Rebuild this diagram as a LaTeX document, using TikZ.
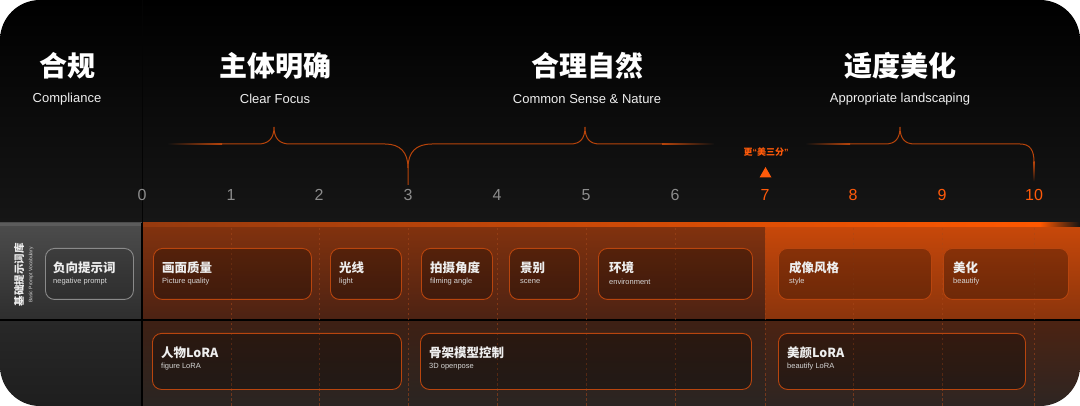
\documentclass[tikz,border=0pt]{standalone}
\usepackage{fontspec}
\setmainfont{Liberation Sans}
\newfontfamily\cjk{Noto Sans CJK SC}
\usetikzlibrary{calc}
\definecolor{hot}{HTML}{FF5A0A}
\definecolor{tickgray}{HTML}{8C8C8C}
\definecolor{bracecol}{HTML}{B8440A}
\definecolor{bracefade}{HTML}{101010}
\definecolor{oborder}{HTML}{B8450E}
\definecolor{gborder}{HTML}{8A8A8A}
\definecolor{txtw}{HTML}{EEEEEE}
\definecolor{txts}{HTML}{D6D6D6}
\definecolor{dashcol}{HTML}{A8481A}
\definecolor{hdrbot}{HTML}{161616}
\definecolor{gtop}{HTML}{4C4C4C}
\definecolor{gbot}{HTML}{2E2E2E}
\definecolor{gstrip}{HTML}{5C5C5C}
\definecolor{g2top}{HTML}{282828}
\definecolor{g2bot}{HTML}{1E1E1E}
\definecolor{o1top}{HTML}{82320E}
\definecolor{o1bot}{HTML}{4C2213}
\definecolor{o1rtop}{HTML}{C8480A}
\definecolor{o1rbot}{HTML}{8A340C}
\definecolor{o2top}{HTML}{3E2014}
\definecolor{o2bot}{HTML}{2A2522}
\definecolor{o2rtop}{HTML}{4C2312}
\definecolor{o2rbot}{HTML}{2E2522}
\definecolor{stripl}{HTML}{963A0E}
\definecolor{stripr}{HTML}{FF5800}
\definecolor{stripend}{HTML}{141414}
\definecolor{hdrline}{HTML}{040404}
\tikzset{
  title/.style={font=\cjk\bfseries\fontsize{28}{30}\selectfont, text=white},
  sub/.style={font=\fontsize{13}{15}\selectfont, text=txtw},
  tick/.style={font=\fontsize{16}{18}\selectfont, text=tickgray},
  tickhot/.style={tick, text=hot},
  obox/.style={draw=oborder, line width=0.9pt, fill=black, fill opacity=0.27, rounded corners=9pt, anchor=north west, inner sep=0pt, minimum height=#1},
  obox/.default=51pt,
  gbox/.style={draw=gborder, line width=0.9pt, fill=black, fill opacity=0.1, rounded corners=9pt, anchor=north west, inner sep=0pt, minimum height=51pt},
  btitle/.style={font=\cjk\bfseries\fontsize{12.5}{14}\selectfont, text=txtw, anchor=west, inner sep=0pt},
  bsub/.style={font=\fontsize{7.5}{9}\selectfont, text=txts, anchor=west, inner sep=0pt},
  brace/.style={draw=bracecol, line width=1pt},
  grid/.style={draw=dashcol, draw opacity=0.55, line width=0.6pt, dash pattern=on 2.5pt off 2.5pt},
}
\begin{document}
\begin{tikzpicture}[x=1pt,y=-1pt]
\useasboundingbox (0,0) rectangle (1080,406);
\fill[white] (0,0) rectangle (1080,406);
\begin{scope}
\clip[rounded corners=40pt] (0,0) rectangle (1080,406);
% header
\shade[top color=black, bottom color=hdrbot] (0,0) rectangle (1080,223);
% left column
\shade[top color=gtop, bottom color=gbot] (0,223) rectangle (142,320);
\fill[gstrip] (0,223) rectangle (142,226);
\shade[top color=g2top, bottom color=g2bot] (0,320) rectangle (142,406);
% orange rows
\shade[top color=o1top, bottom color=o1bot] (143,226) rectangle (765,320);
\shade[top color=o1rtop, bottom color=o1rbot] (765,226) rectangle (1080,320);
\shade[top color=o2top, bottom color=o2bot] (143,320) rectangle (765,406);
\shade[top color=o2rtop, bottom color=o2rbot] (765,320) rectangle (1080,406);
\shade[left color=stripl, right color=stripr] (143,223) rectangle (1040,227);
\shade[left color=stripr, right color=stripend] (1040,223) rectangle (1080,227);
% dividers
\draw[black, line width=2pt] (0,320) -- (1080,320);
\draw[black, line width=2pt] (142,223) -- (142,406);
\draw[hdrline, line width=1pt] (142,0) -- (142,223);
% grid
\foreach \x in {231,319,408,497,586,675,765,853,942,1034}
  \draw[grid] (\x,228) -- (\x,406);
\end{scope}

% titles
\node[title] (h0) at (67,66) {合规};
\node[sub] (s0) at (67,99) {Compliance};
\node[title] (h1) at (275,66) {主体明确};
\node[sub] (s1) at (275,99) {Clear Focus};
\node[title] (h2) at (587,66) {合理自然};
\node[sub] (s2) at (587,99) {Common Sense \& Nature};
\node[title] (h3) at (900,66) {适度美化};
\node[sub] (s3) at (900,99) {Appropriate landscaping};

% ticks
\foreach \i/\x in {0/142,1/231,2/319,3/408,4/497,5/586,6/675}
  \node[tick] (t\i) at (\x,195) {\i};
\foreach \i/\x in {7/765,8/853,9/942,10/1034}
  \node[tickhot] (t\i) at (\x,195) {\i};

% braces (faded ends as shaded strips)
\shade[left color=bracefade, right color=bracecol] (168,143.5) rectangle (222,144.5);
\draw[brace] (222,144) -- (258,144) .. controls (268,144) and (274,139) .. (274,127)
  .. controls (274,139) and (280,144) .. (290,144) -- (385,144)
  .. controls (400,144) and (408,152) .. (408,168) -- (408,185);
\draw[brace] (408,168) .. controls (408,152) and (416,144) .. (432,144) -- (570,144)
  .. controls (580,144) and (585,139) .. (585,127)
  .. controls (585,139) and (590,144) .. (600,144) -- (662,144);
\shade[left color=bracecol, right color=bracefade] (662,143.5) rectangle (714,144.5);
\shade[left color=bracefade, right color=bracecol] (806,143.5) rectangle (850,144.5);
\draw[brace] (850,144) -- (885,144) .. controls (895,144) and (900,139) .. (900,127)
  .. controls (900,139) and (905,144) .. (915,144) -- (1020,144)
  .. controls (1030,144) and (1034,150) .. (1034,162);
\shade[top color=bracecol, bottom color=bracefade] (1033.5,162) rectangle (1034.5,182);

% note
\node[font=\cjk\bfseries\fontsize{9}{10}\selectfont, text=hot] (note) at (766,152) {更{\rmfamily“}美三分{\rmfamily”}};
\fill[hot] (759.5,177.5) -- (771.5,177.5) -- (765.5,167) -- cycle;

% left label
\node[rotate=90, font=\cjk\bfseries\fontsize{10.5}{12}\selectfont, text=txtw] (vl) at (19,275) {基础提示词库};
\node[rotate=90, font=\fontsize{5}{6}\selectfont, text=txts] (vl2) at (31,275) {Basic Prompt Vocabulary};

% row 1 boxes
\node[gbox, minimum width=88pt] (neg) at (45,248) {};
\node[btitle] (negt) at ($(neg.north west)+(8,20)$) {负向提示词};
\node[bsub] (negs) at ($(neg.north west)+(8,34)$) {negative prompt};

\node[obox, minimum width=158pt] (pq) at (153,248) {};
\node[btitle] (pqt) at ($(pq.north west)+(9,20)$) {画面质量};
\node[bsub] (pqs) at ($(pq.north west)+(9,34)$) {Picture quality};

\node[obox, minimum width=71pt] (li) at (330,248) {};
\node[btitle] (lit) at ($(li.north west)+(9,20)$) {光线};
\node[bsub] (lis) at ($(li.north west)+(9,34)$) {light};

\node[obox, minimum width=71pt] (an) at (421,248) {};
\node[btitle] (ant) at ($(an.north west)+(9,20)$) {拍摄角度};
\node[bsub] (ans) at ($(an.north west)+(9,34)$) {filming angle};

\node[obox, minimum width=70pt] (sc) at (509,248) {};
\node[btitle] (sct) at ($(sc.north west)+(11,20)$) {景别};
\node[bsub] (scs) at ($(sc.north west)+(11,34)$) {scene};

\node[obox, minimum width=154pt] (en) at (598,248) {};
\node[btitle] (ent) at ($(en.north west)+(11,20)$) {环境};
\node[bsub] (ens) at ($(en.north west)+(11,34)$) {environment};

\node[obox, minimum width=153pt] (st) at (778,248) {};
\node[btitle] (stt) at ($(st.north west)+(11,20)$) {成像风格};
\node[bsub] (sts) at ($(st.north west)+(11,34)$) {style};

\node[obox, minimum width=125pt] (be) at (943,248) {};
\node[btitle] (bet) at ($(be.north west)+(10,20)$) {美化};
\node[bsub] (bes) at ($(be.north west)+(10,34)$) {beautify};

% row 2 boxes
\node[obox=56pt, minimum width=249pt] (lo) at (152,333) {};
\node[btitle] (lot) at ($(lo.north west)+(9,20)$) {人物LoRA};
\node[bsub] (los) at ($(lo.north west)+(9,34)$) {figure LoRA};

\node[obox=56pt, minimum width=331pt] (po) at (420,333) {};
\node[btitle] (pot) at ($(po.north west)+(9,20)$) {骨架模型控制};
\node[bsub] (pos) at ($(po.north west)+(9,34)$) {3D openpose};

\node[obox=56pt, minimum width=247pt] (bl) at (778,333) {};
\node[btitle] (blt) at ($(bl.north west)+(9,20)$) {美颜LoRA};
\node[bsub] (bls) at ($(bl.north west)+(9,34)$) {beautify LoRA};
\end{tikzpicture}
\end{document}
